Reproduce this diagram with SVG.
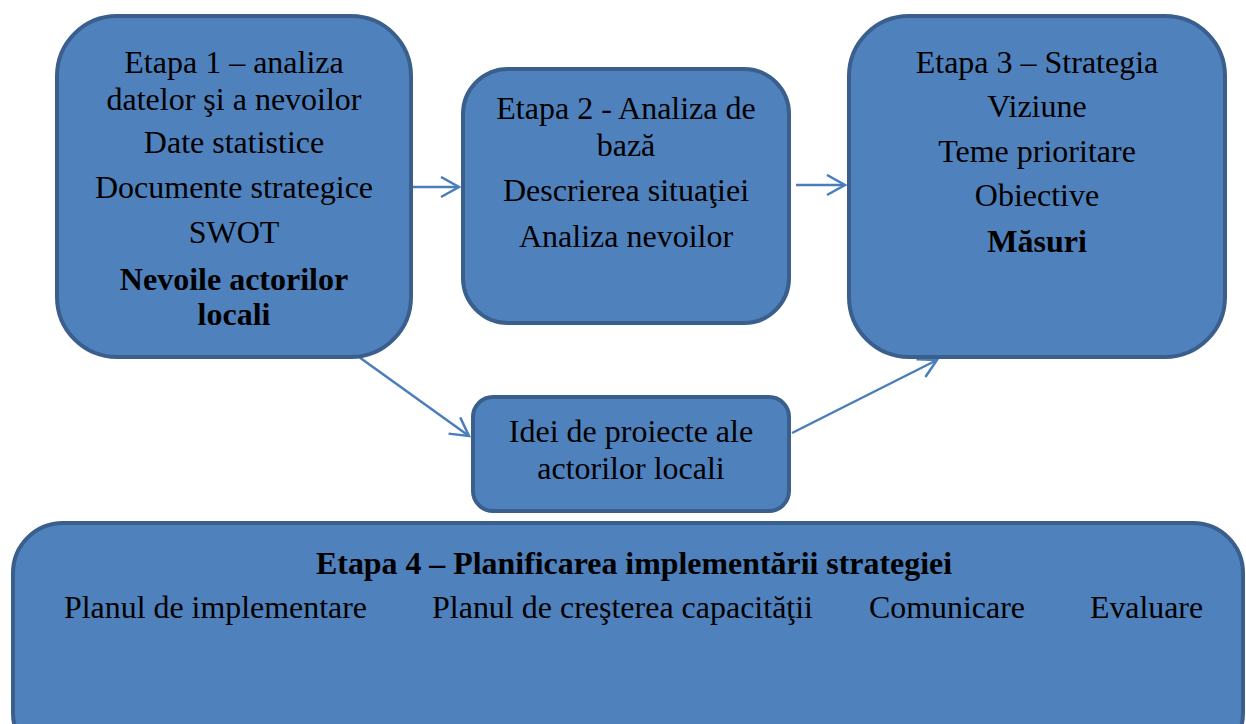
<svg xmlns="http://www.w3.org/2000/svg" width="1246" height="724" viewBox="0 0 1246 724">
<defs>
<style>
.box{fill:#4F81BD;stroke:#3A5F8C;stroke-width:4}
text{font-family:"Liberation Serif","Times New Roman",serif;font-size:32px;fill:#000;text-anchor:middle}
.b{font-weight:bold}
.l{text-anchor:start}
.c{fill:none;stroke:#4A7EBB;stroke-width:2.5}
</style>
<marker id="ah" markerWidth="24" markerHeight="24" refX="20" refY="11" orient="auto" markerUnits="userSpaceOnUse">
<path d="M2,1 L20,11 L2,21" fill="none" stroke="#4A7EBB" stroke-width="2.5"/>
</marker>
</defs>
<rect width="1246" height="724" fill="#fff"/>
<g id="connectors">
<line class="c" x1="412" y1="187" x2="459" y2="187" marker-end="url(#ah)"/>
<line class="c" x1="796" y1="185" x2="845" y2="185" marker-end="url(#ah)"/>
<line class="c" x1="359" y1="357" x2="469" y2="436" marker-end="url(#ah)"/>
<line class="c" x1="792" y1="433" x2="937" y2="360" marker-end="url(#ah)"/>
</g>
<g id="etapa1">
<rect class="box" x="57" y="16" width="354" height="341" rx="60"/>
<text x="234" y="73">Etapa 1 – analiza</text>
<text x="234" y="110">datelor şi a nevoilor</text>
<text x="234" y="153">Date statistice</text>
<text x="234" y="198">Documente strategice</text>
<text x="234" y="243">SWOT</text>
<text class="b" x="234" y="290">Nevoile actorilor</text>
<text class="b" x="234" y="325">locali</text>
</g>
<g id="etapa2">
<rect class="box" x="463" y="69" width="326" height="254" rx="45"/>
<text x="626" y="119">Etapa 2 - Analiza de</text>
<text x="626" y="156">bază</text>
<text x="626" y="201">Descrierea situaţiei</text>
<text x="626" y="247">Analiza nevoilor</text>
</g>
<g id="etapa3">
<rect class="box" x="849" y="16" width="376" height="341" rx="60"/>
<text x="1037" y="73">Etapa 3 – Strategia</text>
<text x="1037" y="117">Viziune</text>
<text x="1037" y="162">Teme prioritare</text>
<text x="1037" y="206">Obiective</text>
<text class="b" x="1037" y="252">Măsuri</text>
</g>
<g id="idei">
<rect class="box" x="473" y="397" width="316" height="114" rx="20"/>
<text x="631" y="442">Idei de proiecte ale</text>
<text x="631" y="479">actorilor locali</text>
</g>
<g id="etapa4">
<rect class="box" x="13" y="523" width="1230" height="240" rx="50"/>
<text class="b" x="634" y="574" textLength="636" lengthAdjust="spacingAndGlyphs">Etapa 4 – Planificarea implementării strategiei</text>
<text class="l" x="64" y="618" textLength="303" lengthAdjust="spacingAndGlyphs">Planul de implementare</text>
<text class="l" x="432" y="618" textLength="381" lengthAdjust="spacingAndGlyphs">Planul de creşterea capacităţii</text>
<text class="l" x="869" y="618" textLength="156" lengthAdjust="spacingAndGlyphs">Comunicare</text>
<text class="l" x="1090" y="618" textLength="113" lengthAdjust="spacingAndGlyphs">Evaluare</text>
</g>
</svg>
